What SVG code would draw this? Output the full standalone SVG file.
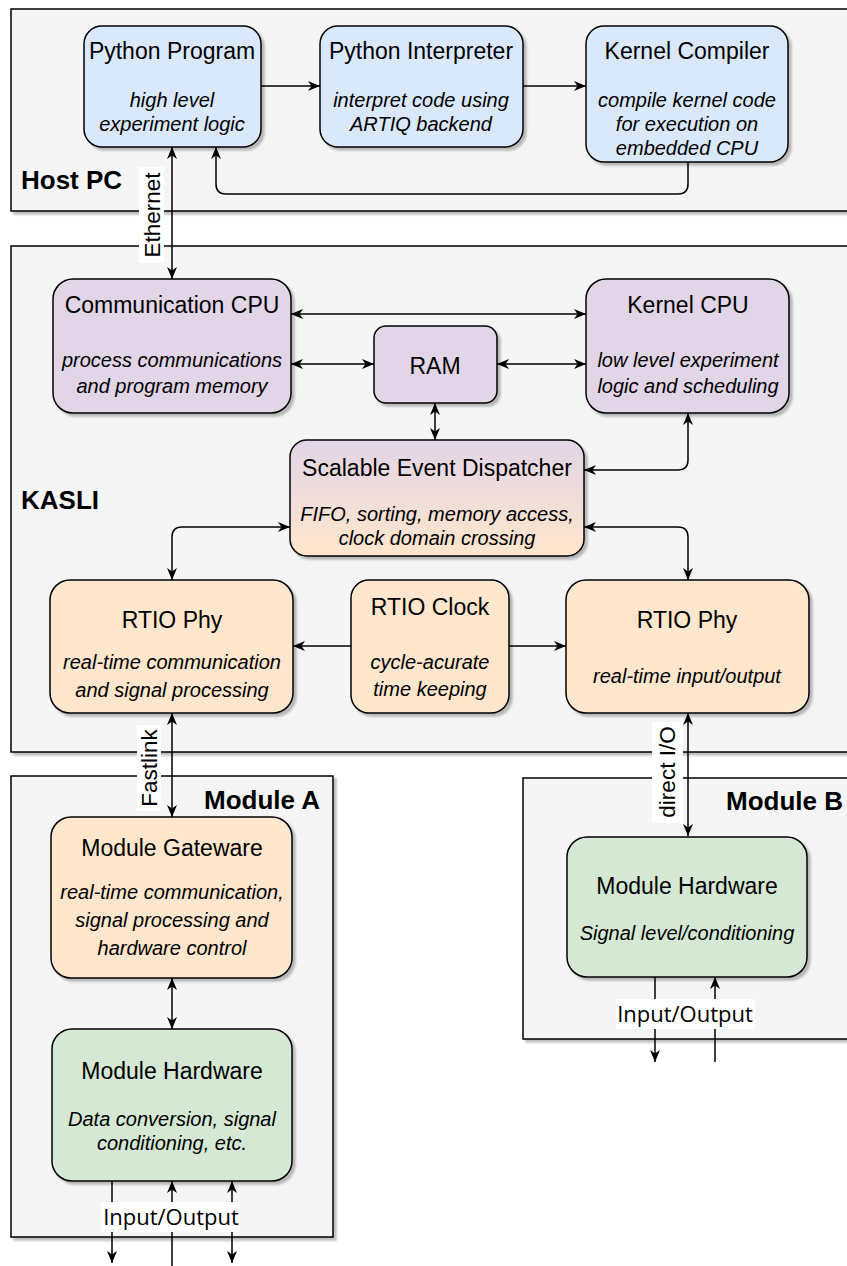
<svg xmlns="http://www.w3.org/2000/svg" width="847" height="1266" viewBox="0 0 847 1266">
<style>
.cont{fill:#f5f5f5;stroke:#000;stroke-width:1.5;filter:url(#sh)}
.node{stroke:#000;stroke-width:1.5;filter:url(#sh)}
.blue{fill:#dae8fc}
.purple{fill:#e1d5e7}
.peach{fill:#ffe6cc}
.green{fill:#d5e8d4}
.t{font-family:"Liberation Sans",Arial,sans-serif;font-size:23px;fill:#000;text-anchor:middle;dominant-baseline:central}
.d{font-family:"Liberation Sans",Arial,sans-serif;font-size:20px;font-style:italic;fill:#000;text-anchor:middle;dominant-baseline:central}
.cl{font-family:"Liberation Sans",Arial,sans-serif;font-size:26px;font-weight:bold;fill:#000}
.el{font-family:"Liberation Sans",Arial,sans-serif;font-size:22.5px;fill:#000;text-anchor:middle;dominant-baseline:central}
.io{font-family:"Open Sans",sans-serif;font-size:22px;fill:#000;text-anchor:middle;dominant-baseline:central}
.e{fill:none;stroke:#000;stroke-width:1.5}
.bg{fill:#fff}
</style>
<defs>
<filter id="sh" x="-5%" y="-5%" width="115%" height="115%">
<feDropShadow dx="3" dy="3" stdDeviation="1" flood-color="#000" flood-opacity="0.25"/>
</filter>
<linearGradient id="sedg" x1="0" y1="0" x2="0" y2="1">
<stop offset="0" stop-color="#e1d5e7"/>
<stop offset="1" stop-color="#ffe6cc"/>
</linearGradient>
<marker id="ah" viewBox="0 0 12 10" refX="12" refY="5" markerWidth="12" markerHeight="10" markerUnits="userSpaceOnUse" orient="auto-start-reverse">
<path d="M0,0 L12,5 L0,10 L3.5,5 Z" fill="#000"/>
</marker>
</defs>

<g id="containers">
<g id="host-pc">
<rect class="cont" x="11" y="9" width="900" height="202"/>
<text class="cl" x="21" y="189">Host PC</text>
</g>
<g id="kasli">
<rect class="cont" x="11" y="246" width="900" height="506"/>
<text class="cl" x="21" y="509">KASLI</text>
</g>
<g id="module-a">
<rect class="cont" x="11" y="776" width="322" height="461"/>
<text class="cl" x="320" y="809" text-anchor="end">Module A</text>
</g>
<g id="module-b">
<rect class="cont" x="523" y="778" width="400" height="261"/>
<text class="cl" x="843" y="810" text-anchor="end">Module B</text>
</g>
</g>

<g id="connectors">
<path class="e" d="M261,86 H320" marker-end="url(#ah)"/>
<path class="e" d="M523,86 H586" marker-end="url(#ah)"/>
<path class="e" d="M688,162 V184 Q688,194 678,194 H226 Q216,194 216,184 V147" marker-end="url(#ah)"/>
<path class="e" d="M172,147 V279" marker-start="url(#ah)" marker-end="url(#ah)"/>
<rect class="bg" x="139" y="167" width="25" height="96"/>
<text class="el" x="152" y="215" transform="rotate(-90 152 215)">Ethernet</text>
<path class="e" d="M291,314 H586" marker-start="url(#ah)" marker-end="url(#ah)"/>
<path class="e" d="M291,364 H374" marker-start="url(#ah)" marker-end="url(#ah)"/>
<path class="e" d="M497,364 H586" marker-start="url(#ah)" marker-end="url(#ah)"/>
<path class="e" d="M435,403 V440" marker-start="url(#ah)" marker-end="url(#ah)"/>
<path class="e" d="M584,470 H678 Q688,470 688,460 V413" marker-start="url(#ah)" marker-end="url(#ah)"/>
<path class="e" d="M290,527 H182 Q172,527 172,537 V580" marker-start="url(#ah)" marker-end="url(#ah)"/>
<path class="e" d="M584,527 H678 Q688,527 688,537 V580" marker-start="url(#ah)" marker-end="url(#ah)"/>
<path class="e" d="M351,646 H293" marker-end="url(#ah)"/>
<path class="e" d="M509,646 H566" marker-end="url(#ah)"/>
<path class="e" d="M172,713 V817" marker-start="url(#ah)" marker-end="url(#ah)"/>
<rect class="bg" x="137" y="725" width="24" height="86"/>
<text class="el" x="149" y="768" transform="rotate(-90 149 768)">Fastlink</text>
<path class="e" d="M688,713 V836" marker-start="url(#ah)" marker-end="url(#ah)"/>
<rect class="bg" x="652" y="722" width="31" height="101"/>
<text class="el" x="667" y="772" transform="rotate(-90 667 772)">direct I/O</text>
<path class="e" d="M172,978 V1029" marker-start="url(#ah)" marker-end="url(#ah)"/>
<path class="e" d="M112,1181 V1263" marker-end="url(#ah)"/>
<path class="e" d="M172,1266 V1181" marker-end="url(#ah)"/>
<path class="e" d="M232,1181 V1263" marker-start="url(#ah)" marker-end="url(#ah)"/>
<rect class="bg" x="101" y="1202" width="139" height="30"/>
<text class="io" x="171" y="1216">Input/Output</text>
<path class="e" d="M655,977 V1062" marker-end="url(#ah)"/>
<path class="e" d="M715,1062 V977" marker-end="url(#ah)"/>
<rect class="bg" x="616" y="999" width="139" height="30"/>
<text class="io" x="685" y="1013">Input/Output</text>
</g>

<g id="python-program">
<rect class="node blue" x="84" y="26" width="177" height="121" rx="18"/>
<text class="t" x="172" y="51">Python Program</text>
<text class="d" x="172" y="100">high level</text>
<text class="d" x="172" y="124">experiment logic</text>
</g>
<g id="python-interpreter">
<rect class="node blue" x="320" y="26" width="203" height="121" rx="18"/>
<text class="t" x="421" y="51">Python Interpreter</text>
<text class="d" x="421" y="100">interpret code using</text>
<text class="d" x="421" y="124">ARTIQ backend</text>
</g>
<g id="kernel-compiler">
<rect class="node blue" x="586" y="26" width="202" height="136" rx="18"/>
<text class="t" x="687" y="51">Kernel Compiler</text>
<text class="d" x="687" y="100">compile kernel code</text>
<text class="d" x="687" y="124">for execution on</text>
<text class="d" x="687" y="148">embedded CPU</text>
</g>
<g id="communication-cpu">
<rect class="node purple" x="53" y="279" width="238" height="134" rx="20"/>
<text class="t" x="172" y="305">Communication CPU</text>
<text class="d" x="172" y="360">process communications</text>
<text class="d" x="172" y="386">and program memory</text>
</g>
<g id="kernel-cpu">
<rect class="node purple" x="586" y="279" width="203" height="134" rx="20"/>
<text class="t" x="688" y="305">Kernel CPU</text>
<text class="d" x="688" y="360">low level experiment</text>
<text class="d" x="688" y="386">logic and scheduling</text>
</g>
<g id="ram">
<rect class="node purple" x="374" y="326" width="123" height="77" rx="12"/>
<text class="t" x="435" y="366">RAM</text>
</g>
<g id="scalable-event-dispatcher">
<rect class="node" fill="url(#sedg)" x="290" y="440" width="294" height="116" rx="17"/>
<text class="t" x="437" y="468">Scalable Event Dispatcher</text>
<text class="d" x="437" y="514">FIFO, sorting, memory access,</text>
<text class="d" x="437" y="538">clock domain crossing</text>
</g>
<g id="rtio-phy-left">
<rect class="node peach" x="50" y="580" width="243" height="133" rx="20"/>
<text class="t" x="172" y="620">RTIO Phy</text>
<text class="d" x="172" y="662">real-time communication</text>
<text class="d" x="172" y="690">and signal processing</text>
</g>
<g id="rtio-clock">
<rect class="node peach" x="351" y="580" width="158" height="133" rx="18"/>
<text class="t" x="430" y="607">RTIO Clock</text>
<text class="d" x="430" y="662">cycle-acurate</text>
<text class="d" x="430" y="689">time keeping</text>
</g>
<g id="rtio-phy-right">
<rect class="node peach" x="566" y="580" width="243" height="133" rx="20"/>
<text class="t" x="687" y="620">RTIO Phy</text>
<text class="d" x="687" y="676">real-time input/output</text>
</g>
<g id="module-gateware">
<rect class="node peach" x="51" y="817" width="241" height="161" rx="20"/>
<text class="t" x="172" y="848">Module Gateware</text>
<text class="d" x="172" y="892">real-time communication,</text>
<text class="d" x="172" y="920">signal processing and</text>
<text class="d" x="172" y="948">hardware control</text>
</g>
<g id="module-hardware-a">
<rect class="node green" x="52" y="1029" width="240" height="152" rx="20"/>
<text class="t" x="172" y="1071">Module Hardware</text>
<text class="d" x="172" y="1119">Data conversion, signal</text>
<text class="d" x="172" y="1143">conditioning, etc.</text>
</g>
<g id="module-hardware-b">
<rect class="node green" x="567" y="837" width="240" height="140" rx="20"/>
<text class="t" x="687" y="886">Module Hardware</text>
<text class="d" x="687" y="933">Signal level/conditioning</text>
</g>
</svg>
